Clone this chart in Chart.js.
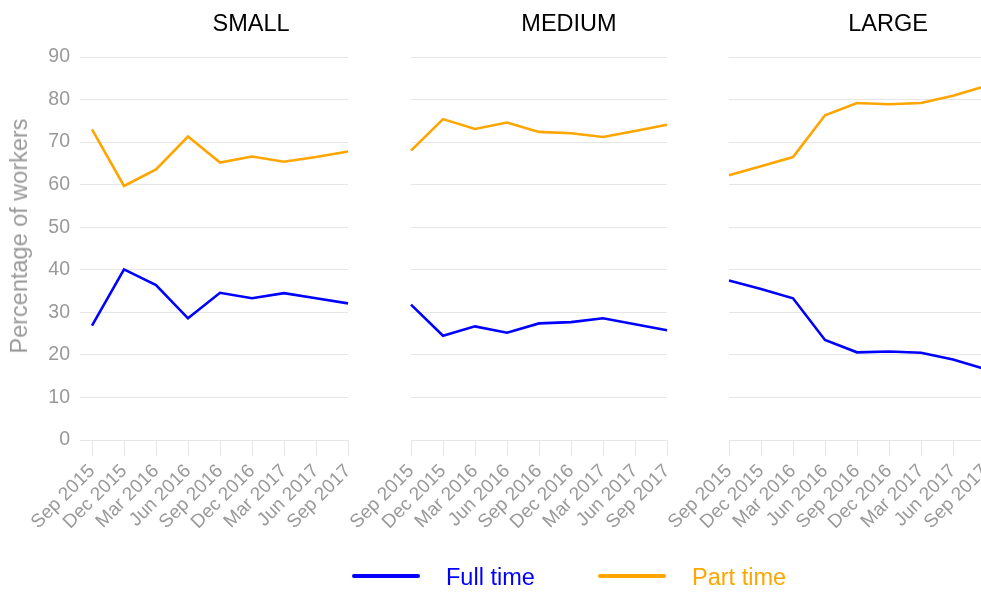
<!DOCTYPE html>
<html>
<head>
<meta charset="utf-8">
<script src="https://cdn.jsdelivr.net/npm/chart.js@4.4.0/dist/chart.umd.min.js"></script>
<style>
  html, body { margin: 0; padding: 0; background: #fff; overflow: hidden; }
  body { width: 981px; height: 592px; position: relative; font-family: "Liberation Sans", Arial, sans-serif; }
  canvas { position: absolute; top: 0; }
  .title { position: absolute; top: 11px; font-size: 23.5px; line-height: 24px; color: #000; transform: translateX(-50%); white-space: nowrap; }
  #ytitle { position: absolute; left: 19px; top: 236px; font-size: 23.5px; line-height: 24px; color: #999; white-space: nowrap;
            transform: translate(-50%, -50%) rotate(-90deg); }
  .lgline { position: absolute; top: 574px; width: 68px; height: 4px; border-radius: 2px; }
  .lgtext { position: absolute; top: 565px; font-size: 23.5px; line-height: 24px; white-space: nowrap; }
</style>
</head>
<body>
<canvas id="small" width="360" height="560" style="left:0px"></canvas>
<canvas id="medium" width="380" height="560" style="left:300px"></canvas>
<canvas id="large" width="380" height="560" style="left:620px"></canvas>

<div class="title" style="left:251px">SMALL</div>
<div class="title" style="left:569px">MEDIUM</div>
<div class="title" style="left:888px">LARGE</div>
<div id="ytitle">Percentage of workers</div>

<div class="lgline" style="left:352px; background:#0000ff"></div>
<div class="lgtext" style="left:446px; color:#0000ff">Full time</div>
<div class="lgline" style="left:598px; background:#ffa500"></div>
<div class="lgtext" style="left:692px; color:#ffa500">Part time</div>

<script>
var categories = ['Sep 2015', 'Dec 2015', 'Mar 2016', 'Jun 2016', 'Sep 2016', 'Dec 2016', 'Mar 2017', 'Jun 2017', 'Sep 2017'];

var smallFull = [26.9, 40.1, 36.4, 28.6, 34.6, 33.3, 34.5, 33.3, 32.1];
var smallPart = [73.0, 59.7, 63.6, 71.3, 65.2, 66.6, 65.4, 66.5, 67.8];
var mediumFull = [31.8, 24.5, 26.7, 25.2, 27.4, 27.7, 28.6, 27.2, 25.8];
var mediumPart = [68.0, 75.4, 73.1, 74.6, 72.4, 72.1, 71.2, 72.6, 74.1];
var largeFull = [37.5, 35.5, 33.3, 23.5, 20.6, 20.8, 20.5, 18.9, 16.7];
var largePart = [62.2, 64.3, 66.5, 76.3, 79.2, 78.9, 79.2, 80.9, 83.1];

var yMin = 0, yMax = 90, yStep = 10;

var gridColor = '#e6e6e6';
var tickColor = '#999999';

function makePanel(id, full, part, axisWidth, padRight, showY) {
  var ctx = document.getElementById(id).getContext('2d');
  return new Chart(ctx, {
    type: 'line',
    data: {
      labels: categories,
      datasets: [{
        label: 'Full time',
        data: full,
        borderColor: '#0000ff',
        borderWidth: 2.6,
        pointRadius: 0,
        tension: 0
      }, {
        label: 'Part time',
        data: part,
        borderColor: '#ffa500',
        borderWidth: 2.6,
        pointRadius: 0,
        tension: 0
      }]
    },
    options: {
      responsive: false,
      animation: false,
      layout: { padding: { top: 57, right: padRight, left: 0, bottom: 0 } },
      plugins: { legend: { display: false }, tooltip: { enabled: false } },
      scales: {
        x: {
          offset: false,
          border: { display: false },
          grid: { drawOnChartArea: false, drawTicks: true, tickLength: 16, color: gridColor },
          ticks: {
            color: tickColor,
            font: { family: '"Liberation Sans", Arial, sans-serif', size: 19 },
            minRotation: 45,
            maxRotation: 45,
            autoSkip: false,
            padding: 4
          },
          afterFit: function (scale) {
            scale.height = 120;
            scale.paddingLeft = 0;
            scale.paddingRight = 0;
          }
        },
        y: {
          min: yMin,
          max: yMax,
          border: { display: false },
          grid: { color: gridColor, drawTicks: showY, tickLength: 12 },
          ticks: {
            display: showY,
            stepSize: yStep,
            color: tickColor,
            padding: 10,
            font: { family: '"Liberation Sans", Arial, sans-serif', size: 19.5 }
          },
          afterFit: function (scale) {
            scale.width = axisWidth;
          }
        }
      }
    }
  });
}

makePanel('small', smallFull, smallPart, 92, 12, true);
makePanel('medium', mediumFull, mediumPart, 111, 13, false);
makePanel('large', largeFull, largePart, 109, 15, false);
</script>
</body>
</html>
